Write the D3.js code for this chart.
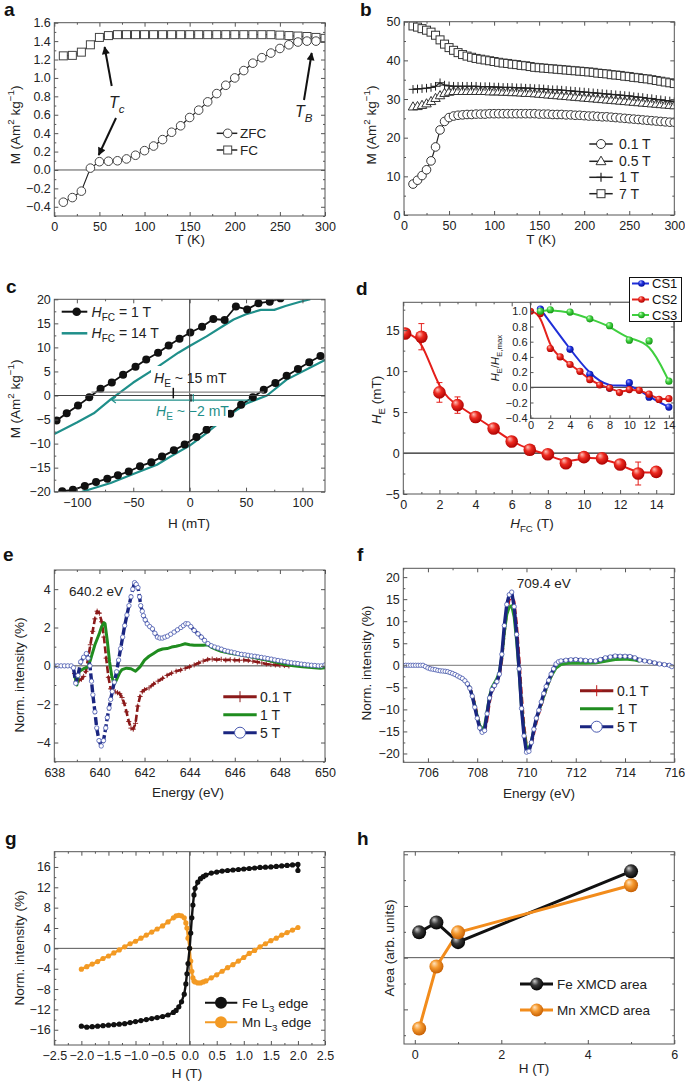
<!DOCTYPE html>
<html><head><meta charset="utf-8">
<script src="https://cdn.jsdelivr.net/npm/d3@7"></script>
<style>
body{margin:0;background:#fff}
svg{display:block}
text{font-family:"Liberation Sans",Arial,Helvetica,sans-serif}
</style>
</head><body>
<svg width="685" height="1081"></svg>
<script>
// ======================= DATA =======================
// (a) ZFC / FC
const aT_zfc=[10,20,30,40,50,60,70,80,90,100,110,120,130,140,150,160,170,180,190,200,210,220,230,240,250,260,270,280,290];
const aM_zfc=[-0.35,-0.30,-0.23,0.02,0.09,0.095,0.10,0.12,0.16,0.21,0.26,0.33,0.41,0.48,0.57,0.65,0.74,0.83,0.92,1.00,1.08,1.16,1.22,1.27,1.32,1.36,1.39,1.40,1.40];
const aT_fc=[10,20,30,40,50,60,70,80,90,100,110,120,130,140,150,160,170,180,190,200,210,220,230,240,250,260,270,280,290,300];
const aM_fc=[1.24,1.245,1.28,1.36,1.44,1.46,1.47,1.47,1.47,1.47,1.47,1.47,1.47,1.47,1.47,1.47,1.47,1.47,1.47,1.47,1.47,1.47,1.47,1.47,1.465,1.46,1.455,1.45,1.44,1.43];
const aLegend=["ZFC","FC"];
// (b) M(T) at several fields
const bT=[10,15,20,25,30,35,40,45,50,55,60,65,70,75,80,85,90,95,100,105,110,115,120,125,130,135,140,145,150,155,160,165,170,175,180,185,190,195,200,205,210,215,220,225,230,235,240,245,250,255,260,265,270,275,280,285,290,295,300];
const bM01=[8.0,9.0,10.2,11.7,14.0,17.6,22.0,24.2,25.2,25.6,25.8,25.9,26.0,26.0,26.1,26.1,26.1,26.2,26.2,26.2,26.2,26.2,26.2,26.2,26.2,26.2,26.2,26.2,26.1,26.1,26.1,26.0,26.0,26.0,25.9,25.9,25.8,25.8,25.7,25.6,25.6,25.5,25.4,25.4,25.3,25.2,25.1,25.0,24.9,24.8,24.7,24.6,24.5,24.4,24.3,24.2,24.1,24.0,24.0];
const bM05=[28.0,28.1,28.4,28.8,29.4,30.2,30.9,31.5,31.8,32.0,32.0,32.0,32.0,32.0,32.0,32.0,32.0,31.9,31.9,31.9,31.8,31.8,31.7,31.7,31.6,31.5,31.5,31.4,31.3,31.2,31.1,31.0,30.9,30.8,30.7,30.6,30.5,30.4,30.3,30.2,30.1,30.0,29.9,29.8,29.7,29.6,29.5,29.4,29.3,29.2,29.1,29.0,28.9,28.8,28.7,28.6,28.5,28.4,28.3];
const bM1=[32.5,32.6,32.7,32.8,33.0,33.3,34.2,33.6,33.4,33.3,33.3,33.3,33.3,33.3,33.3,33.2,33.2,33.2,33.1,33.1,33.0,33.0,33.0,32.9,32.9,32.8,32.8,32.7,32.7,32.6,32.5,32.4,32.4,32.3,32.2,32.1,32.0,31.9,31.8,31.7,31.6,31.5,31.4,31.3,31.2,31.1,31.0,30.9,30.8,30.6,30.5,30.4,30.2,30.1,29.9,29.8,29.6,29.5,29.3];
const bM7=[48.9,48.6,48.2,47.8,47.3,46.5,45.3,44.2,43.3,42.6,42.0,41.5,41.1,40.8,40.5,40.3,40.1,39.9,39.7,39.5,39.3,39.2,39.0,38.9,38.7,38.6,38.4,38.2,38.1,38.0,37.9,37.8,37.7,37.6,37.5,37.4,37.3,37.2,37.1,37.0,36.9,36.7,36.6,36.5,36.3,36.2,36.1,35.9,35.8,35.6,35.5,35.3,35.2,35.0,34.8,34.6,34.4,34.2,34.0];
const bLegend=["0.1 T","0.5 T","1 T","7 T"];
// (c) hysteresis loops
const cBlkUpH=[-118,-109,-99,-89,-79,-69,-59,-48,-38.5,-28,-18.6,-9,0.6,11,21,31,41,51,61,71,80.5];
const cBlkUpM=[-5.2,-3.7,-2.1,-0.35,1.4,2.7,4.3,6.0,7.5,8.9,10.4,11.8,13.1,14.3,15.9,15.7,18.5,17.9,19.2,19.5,20.2];
const cBlkLoH=[-113,-103.5,-93,-83,-73,-63.6,-54,-44,-34,-24.5,-14,-4.4,6,15,36,45.6,56,65.7,76,86,96,106,116];
const cBlkLoM=[-19.9,-19.6,-18.8,-18.0,-17.3,-16.6,-15.8,-14.7,-13.9,-12.7,-11.4,-10.2,-8.65,-7.1,-3.8,-1.9,-0.35,1.2,2.6,4.1,5.5,6.9,8.2];
const cTealUpH=[-120,-100,-85,-70,-50,-30,-10,0,15,30,39,50,63,75,85,98,107];
const cTealUpM=[-8.0,-5.6,-3.7,-0.8,2.7,5.7,8.9,10.3,12.3,14.5,15.8,16.9,17.8,17.8,18.6,19.5,20.0];
const cTealLoH=[-100,-94,-70,-50,-29,-17,0,15,33,51,68.6,86,120];
const cTealLoM=[-20.5,-19.9,-18.2,-16.3,-14.4,-12.7,-10.4,-7.8,-4.4,-1.6,0,3.3,7.4];
// (d) exchange bias vs cooling field
const dHfc=[0.1,1,2,3,4,5,6,7,8,9,10,11,12,13,14];
const dHe=[14.6,14.2,7.4,5.85,4.4,3.0,1.4,0.4,-0.15,-1.25,-0.5,-0.65,-1.4,-2.5,-2.3];
const dErr=[0.4,1.6,1.2,1.0,0.3,0.3,0.3,0.3,0.3,0.3,0.3,0.3,0.3,1.4,0.3];
const dCS1x=[1,4,6,8,10,12,14], dCS1y=[1.03,0.50,0.17,-0.01,0.06,-0.13,-0.26];
const dCS2x=[0,1,2,3,4,5,6,7,8,9,10,11,12,13,14], dCS2y=[1.0,0.97,0.51,0.40,0.30,0.21,0.10,0.03,-0.01,-0.07,-0.03,-0.04,-0.09,-0.16,-0.15];
const dCS3x=[1,2,4,6,8,10,12,14], dCS3y=[1.0,1.02,0.99,0.90,0.81,0.62,0.61,0.08];
const dLegend=["CS1","CS2","CS3"];
// (e) Mn XMCD
const eE01=[638.9,639.0,639.1,639.2,639.3,639.4,639.5,639.6,639.7,639.8,639.9,640.0,640.1,640.2,640.3,640.4,640.5,640.6,640.7,640.8,640.9,641.0,641.1,641.2,641.3,641.4,641.5,641.6,641.7,641.8,641.9,642.0,642.2,642.4,642.6,642.8,643.0,643.2,643.4,643.6,643.8,644.0,644.2,644.4,644.6,644.8,645.0,645.2,645.4,645.6,645.8,646.0,646.2,646.4,646.6,646.8,647.0,647.2,647.4,647.6,647.8,648.0,648.2,648.4];
const eI01=[-0.4,-0.8,-0.75,-0.7,-0.55,-0.3,0.4,1.1,1.8,2.45,2.85,2.75,2.3,1.5,0.4,-0.6,-1.2,-1.3,-1.35,-1.4,-1.45,-1.65,-1.95,-2.4,-2.9,-3.25,-3.3,-3.0,-2.1,-1.6,-1.35,-1.25,-1.15,-0.95,-0.8,-0.65,-0.5,-0.38,-0.28,-0.22,-0.13,-0.05,0.05,0.15,0.25,0.33,0.35,0.32,0.34,0.3,0.32,0.3,0.29,0.3,0.28,0.24,0.2,0.15,0.1,0.07,0.05,0.03,0.02,0.0];
const eE1=[638.9,639.0,639.1,639.3,639.5,639.6,639.7,639.8,639.9,640.0,640.1,640.2,640.25,640.35,640.45,640.55,640.65,640.75,640.9,641.0,641.2,641.4,641.6,641.8,642.0,642.2,642.4,642.6,642.8,643.0,643.2,643.4,643.6,643.8,644.0,644.2,644.4,644.6,644.8,645.0,645.2,645.4,645.8,646.2,646.6,647.0,647.4,647.8,648.2,648.6,649.0,649.4,649.8,650.0];
const eI1=[-0.5,-1.0,-0.3,-0.15,-0.05,0.3,0.7,1.1,1.4,1.7,2.05,2.25,2.2,1.3,0.2,-0.55,-0.95,-0.75,-0.35,-0.2,-0.12,-0.15,-0.28,-0.05,0.3,0.5,0.65,0.8,0.88,0.9,0.98,1.02,1.08,1.15,1.1,1.07,1.08,1.08,1.1,0.95,0.85,0.76,0.65,0.58,0.5,0.4,0.3,0.2,0.08,0.0,-0.05,-0.08,-0.12,-0.1];
const eE5=[638.0,638.15,638.3,638.45,638.6,638.75,638.85,638.95,639.05,639.17,639.3,639.42,639.5,639.58,639.65,639.71,639.8,639.88,639.98,640.08,640.18,640.28,640.35,640.43,640.5,640.57,640.66,640.76,640.85,640.94,641.03,641.12,641.22,641.31,641.4,641.48,641.56,641.63,641.71,641.78,641.83,641.9,641.95,642.03,642.12,642.23,642.35,642.46,642.57,642.68,642.79,642.9,643.02,643.16,643.31,643.46,643.61,643.72,643.83,643.93,644.05,644.2,644.37,644.52,644.66,644.81,644.96,645.11,645.26,645.41,645.56,645.7,645.85,646.0,646.14,646.3,646.45,646.59,646.74,646.89,647.03,647.18,647.33,647.47,647.62,647.77,647.92,648.07,648.22,648.36,648.51,648.66,648.8,648.95,649.1,649.25,649.4,649.55,649.7,649.84,650.0];
const eI5=[0,0,0,0,0,0,-0.1,-0.91,-0.5,0.21,0.45,0.64,0.4,0.0,-0.8,-1.51,-2.4,-3.24,-3.9,-4.18,-3.9,-3.24,-2.7,-2.2,-1.75,-1.34,-0.85,-0.31,0.3,0.9,1.5,2.1,2.65,3.14,3.6,4.0,4.34,4.25,4.08,3.6,3.14,2.85,2.62,2.4,2.19,2.05,1.93,1.7,1.5,1.45,1.45,1.5,1.55,1.65,1.76,1.88,2.0,2.1,2.2,2.19,2.05,1.85,1.67,1.5,1.33,1.16,1.05,0.98,0.93,0.87,0.8,0.76,0.72,0.68,0.64,0.6,0.58,0.55,0.52,0.5,0.47,0.44,0.41,0.38,0.35,0.31,0.28,0.25,0.22,0.19,0.16,0.14,0.12,0.09,0.07,0.05,0.03,0.02,0.0,0.0,0.05];
const fieldLegend=["0.1 T","1 T","5 T"];
// (f) Fe XMCD
const fE01=[705.9,706.5,707.0,707.5,707.7,707.9,708.0,708.1,708.2,708.3,708.4,708.5,708.6,708.7,708.8,708.9,709.0,709.1,709.2,709.3,709.4,709.5,709.6,709.7,709.8,709.9,710.0,710.1,710.2,710.3,710.4,710.5,710.6,710.7,710.8,710.9,711.0,711.1,711.2,711.3];
const fI01=[-0.3,-1.25,-1.85,-3.4,-4.8,-8.5,-11.0,-13.5,-15.0,-15.3,-12.5,-8.5,-6.0,-4.8,-3.9,-2.5,1.0,7.0,12.0,14.8,15.5,14.5,9.5,2.0,-6.5,-13.5,-18.0,-19.2,-18.0,-15.5,-13.0,-11.0,-9.2,-7.3,-5.5,-4.0,-2.6,-1.2,0.0,0.6];
const fE1=[706.0,706.5,707.0,707.5,707.7,707.9,708.0,708.1,708.2,708.3,708.4,708.5,708.6,708.7,708.8,708.9,709.0,709.1,709.2,709.3,709.4,709.5,709.6,709.7,709.8,709.9,710.0,710.1,710.2,710.3,710.4,710.6,710.8,711.0,711.2,711.4,711.6,712.0,712.4,712.8,713.2,713.6,714.0,714.4,714.6];
const fI1=[-0.6,-1.25,-1.85,-3.5,-5.0,-9.0,-11.5,-13.6,-14.5,-13.8,-10.5,-7.0,-5.0,-4.0,-3.0,-1.5,2.0,7.5,11.5,13.2,13.5,11.0,5.5,-1.5,-9.5,-15.0,-18.5,-19.0,-17.2,-14.5,-12.2,-8.7,-5.3,-2.5,-0.6,0.2,0.4,0.5,0.45,0.5,0.9,1.3,1.4,1.2,0.9];
const fE5=[705.0,705.1,705.2,705.3,705.4,705.5,705.6,705.7,705.8,705.9,706.0,706.1,706.2,706.3,706.4,706.5,706.6,706.7,706.8,706.9,707.0,707.1,707.2,707.3,707.4,707.5,707.6,707.7,707.8,707.9,708.0,708.1,708.2,708.3,708.4,708.5,708.6,708.7,708.8,708.9,709.0,709.1,709.2,709.3,709.4,709.5,709.6,709.7,709.8,709.9,710.0,710.1,710.2,710.3,710.4,710.5,710.6,710.7,710.8,710.9,711.0,711.1,711.2,711.3,711.4,711.6,711.8,712.0,712.2,712.4,712.6,712.8,713.0,713.2,713.4,713.6,713.8,714.0,714.2,714.4,714.6,714.8,715.0,715.2,715.4,715.6,715.8,715.9];
const fI5=[0,0,0,0,0,0,0,0,0,-0.3,-0.6,-0.8,-0.9,-1.0,-1.15,-1.25,-1.3,-1.35,-1.45,-1.65,-1.85,-2.1,-2.4,-2.7,-3.0,-3.5,-4.2,-5.2,-7.0,-9.5,-12.0,-14.2,-15.2,-14.8,-11.0,-7.4,-5.5,-4.6,-3.7,-2.0,2.5,9.0,13.8,16.0,16.6,13.3,7.0,-0.8,-9.8,-16.0,-19.7,-19.5,-17.5,-14.5,-12.0,-10.2,-8.3,-6.4,-4.8,-3.4,-2.0,-0.8,0.3,0.8,1.0,1.15,1.25,1.3,1.2,1.1,1.05,1.0,1.3,1.7,1.9,2.1,2.05,2.05,2.0,1.7,1.2,1.0,0.8,0.55,0.3,0.15,0.0,-0.3];
// (g) element-specific hysteresis
const gFeH=[-2.0,-1.9,-1.8,-1.7,-1.6,-1.5,-1.4,-1.3,-1.2,-1.1,-1.0,-0.9,-0.8,-0.7,-0.6,-0.5,-0.4,-0.3,-0.25,-0.2,-0.15,-0.1,-0.07,-0.05,-0.03,0.0,0.02,0.04,0.06,0.08,0.1,0.15,0.2,0.25,0.3,0.4,0.5,0.6,0.7,0.8,0.9,1.0,1.1,1.2,1.3,1.4,1.5,1.6,1.7,1.8,1.9,2.0,2.0];
const gFeI=[-15.3,-15.5,-15.4,-15.3,-15.2,-15.1,-15.0,-14.9,-14.8,-14.6,-14.4,-14.2,-14.0,-13.8,-13.6,-13.4,-13.1,-12.6,-12.2,-11.5,-10.5,-9.0,-7.0,-5.0,-3.0,0.0,3.0,6.0,8.5,10.5,11.8,13.0,13.7,14.1,14.4,14.8,15.0,15.2,15.3,15.4,15.5,15.6,15.7,15.8,15.9,15.95,16.0,16.1,16.2,16.3,16.4,16.5,15.3];
const gMnH=[-2.0,-1.9,-1.8,-1.7,-1.6,-1.5,-1.4,-1.3,-1.2,-1.1,-1.0,-0.9,-0.8,-0.7,-0.6,-0.5,-0.4,-0.3,-0.25,-0.2,-0.15,-0.1,-0.07,-0.05,-0.03,0.0,0.02,0.04,0.06,0.08,0.1,0.15,0.2,0.25,0.3,0.4,0.5,0.6,0.7,0.8,0.9,1.0,1.1,1.2,1.3,1.4,1.5,1.6,1.7,1.8,1.9,2.0];
const gMnI=[-4.1,-3.6,-3.1,-2.6,-2.0,-1.5,-0.9,-0.3,0.3,0.9,1.4,2.0,2.6,3.2,3.8,4.4,5.2,6.0,6.4,6.5,6.4,6.0,5.0,4.0,2.0,0.0,-2.5,-4.5,-5.8,-6.4,-6.6,-6.8,-6.8,-6.6,-6.4,-5.8,-5.2,-4.5,-3.8,-3.2,-2.5,-1.8,-1.0,-0.4,0.3,0.9,1.5,2.0,2.6,3.1,3.6,4.1];
const gLegend=["Fe","Mn"];
// (h) XMCD areas
const hH=[0.1,0.5,1.0,5.0];
const hFe=[0.49,0.68,0.30,1.67];
const hMn=[-1.37,-0.17,0.49,1.40];
const hLegend=["Fe XMCD area","Mn XMCD area"];
// tick labels
const ticksA_x=[0,50,100,150,200,250,300], ticksA_y=[-0.4,-0.2,0,0.2,0.4,0.6,0.8,1.0,1.2,1.4,1.6];
const ticksB_x=[0,50,100,150,200,250,300], ticksB_y=[0,10,20,30,40,50];
const ticksC_x=[-100,-50,0,50,100], ticksC_y=[-20,-15,-10,-5,0,5,10,15,20];
const ticksD_x=[0,2,4,6,8,10,12,14], ticksD_y=[-5,0,5,10,15];
const ticksDi_x=[0,2,4,6,8,10,12,14], ticksDi_y=[-0.4,-0.2,0,0.2,0.4,0.6,0.8,1.0];
const ticksE_x=[638,640,642,644,646,648,650], ticksE_y=[-4,-2,0,2,4];
const ticksF_x=[706,708,710,712,714,716], ticksF_y=[-20,-15,-10,-5,0,5,10,15,20];
const ticksG_x=[-2.5,-2,-1.5,-1,-0.5,0,0.5,1,1.5,2,2.5], ticksG_y=[-16,-12,-8,-4,0,4,8,12,16];
const ticksH_x=[0,2,4,6], ticksH_y=[-1,0,1,2];

// ======================= HELPERS =======================
const svg=d3.select("svg");
const defs=svg.append("defs");
function grad(id,c0,c1,c2){
  const g=defs.append("radialGradient").attr("id",id).attr("cx","45%").attr("cy","42%").attr("r","60%").attr("fx","33%").attr("fy","28%");
  g.append("stop").attr("offset","0%").attr("stop-color",c0);
  g.append("stop").attr("offset","45%").attr("stop-color",c1);
  g.append("stop").attr("offset","100%").attr("stop-color",c2);
}
grad("gRed","#ffc0b8","#ee2a20","#a80000");
grad("gBlue","#b0b8ff","#2233e0","#000a90");
grad("gGreen","#d0ffc8","#44d444","#109010");
grad("gBlack","#d0d0d0","#3a3a3a","#000000");
grad("gOrange","#ffe4c0","#f59a30","#c45c00");
defs.append("marker").attr("id","arr").attr("viewBox","0 0 10 10").attr("refX",9).attr("refY",5)
  .attr("markerWidth",4.5).attr("markerHeight",4).attr("orient","auto")
  .append("path").attr("d","M0,0L10,5L0,10z").attr("fill","#111");

let clipN=0;
function panel(o){
  const x=d3.scaleLinear().domain(o.xd).range([o.l,o.r]);
  const y=d3.scaleLinear().domain(o.yd).range([o.b,o.t]);
  const g=svg.append("g");
  if(o.bg) g.append("rect").attr("x",o.l).attr("y",o.t).attr("width",o.r-o.l).attr("height",o.b-o.t).attr("fill","#fff");
  const id="clip"+(clipN++);
  defs.append("clipPath").attr("id",id).append("rect").attr("x",o.l).attr("y",o.t).attr("width",o.r-o.l).attr("height",o.b-o.t);
  const under=g.append("g").attr("clip-path",`url(#${id})`);
  const plot=g.append("g").attr("clip-path",`url(#${id})`);
  const ax=g.append("g");
  return {x,y,g,plot,under,ax,o};
}
function axes(p,s){
  const {x,y,ax,o}=p; const fs=s.fs||12.5;
  const none=()=>"";
  function mk(axis,tr,vals,size,fmt,pad){
    const a=ax.append("g").attr("transform",tr)
      .call(axis.tickValues(vals).tickSizeInner(size).tickSizeOuter(0).tickPadding(pad).tickFormat(fmt));
    a.select(".domain").remove();
    a.selectAll("line").attr("stroke","#555").attr("stroke-width",1);
    a.selectAll("text").attr("font-size",fs).attr("fill","#222");
    return a;
  }
  const maj=s.majLen||4, mn=s.minLen||2;
  mk(d3.axisBottom(x),`translate(0,${o.b})`,s.xMaj,-maj,s.xFmt||none,s.xPad||5);
  mk(d3.axisTop(x),`translate(0,${o.t})`,s.xMaj,-maj,none,0);
  mk(d3.axisLeft(y),`translate(${o.l},0)`,s.yMaj,-maj,s.yFmt||none,s.yPad||3.5);
  mk(d3.axisRight(y),`translate(${o.r},0)`,s.yMaj,-maj,none,0);
  if(s.xMin){mk(d3.axisBottom(x),`translate(0,${o.b})`,s.xMin,-mn,none,0);mk(d3.axisTop(x),`translate(0,${o.t})`,s.xMin,-mn,none,0);}
  if(s.yMin){mk(d3.axisLeft(y),`translate(${o.l},0)`,s.yMin,-mn,none,0);mk(d3.axisRight(y),`translate(${o.r},0)`,s.yMin,-mn,none,0);}
  ax.append("rect").attr("x",o.l).attr("y",o.t).attr("width",o.r-o.l).attr("height",o.b-o.t)
    .attr("fill","none").attr("stroke","#555").attr("stroke-width",1);
}
function rich(parent,x,y,parts,o={}){
  const fs=o.fs||13;
  const t=parent.append("text").attr("x",x).attr("y",y).attr("font-size",fs)
    .attr("fill",o.fill||"#222").attr("text-anchor",o.anchor||"start");
  if(o.rot) t.attr("transform",`rotate(-90 ${x} ${y})`);
  if(o.bold) t.attr("font-weight","bold");
  let cur=0;
  parts.forEach(pp=>{
    const p=(typeof pp==="string")?{t:pp}:pp;
    const off=p.sub?fs*0.3:p.sup?-fs*0.4:0;
    const s=t.append("tspan").text(p.t);
    if(off!==cur){s.attr("dy",off-cur);cur=off;}
    if(p.sub||p.sup) s.attr("font-size",fs*0.72);
    if(p.i) s.attr("font-style","italic");
  });
  return t;
}
function hline(p,v,col,w){p.under.append("line").attr("x1",p.o.l).attr("x2",p.o.r).attr("y1",p.y(v)).attr("y2",p.y(v)).attr("stroke",col||"#555").attr("stroke-width",w||1);}
function vline(p,v,col,w){p.under.append("line").attr("y1",p.o.t).attr("y2",p.o.b).attr("x1",p.x(v)).attr("x2",p.x(v)).attr("stroke",col||"#555").attr("stroke-width",w||1);}
function path(p,xs,ys,st,curve){
  const pts=d3.zip(xs,ys);
  return p.plot.append("path").datum(pts)
    .attr("d",d3.line().x(d=>p.x(d[0])).y(d=>p.y(d[1])).curve(curve||d3.curveLinear))
    .attr("fill","none").attr("stroke",st.c).attr("stroke-width",st.w||1.2)
    .attr("stroke-dasharray",st.dash||null).attr("stroke-linejoin","round");
}
const SYM={
  circle:(g,r)=>g.append("circle").attr("r",r),
  square:(g,r)=>g.append("rect").attr("x",-r).attr("y",-r).attr("width",2*r).attr("height",2*r),
  tri:(g,r)=>g.append("path").attr("d",`M0,${-r*1.15}L${r*1.1},${r*0.75}L${-r*1.1},${r*0.75}Z`),
  plus:(g,r)=>g.append("path").attr("d",`M${-r},0H${r}M0,${-r}V${r}`)
};
function marks(p,xs,ys,kind,r,st){
  const pts=d3.zip(xs,ys);
  const grp=p.plot.append("g");
  pts.forEach(d=>{
    const gg=grp.append("g").attr("transform",`translate(${p.x(d[0])},${p.y(d[1])})`);
    SYM[kind](gg,r).attr("fill",st.fill||"none").attr("stroke",st.stroke||"none").attr("stroke-width",st.sw||1);
  });
}
function legendSym(parent,x,y,kind,r,st){
  const gg=parent.append("g").attr("transform",`translate(${x},${y})`);
  SYM[kind](gg,r).attr("fill",st.fill||"none").attr("stroke",st.stroke||"none").attr("stroke-width",st.sw||1);
}
function lline(parent,x1,x2,y,col,w){parent.append("line").attr("x1",x1).attr("x2",x2).attr("y1",y).attr("y2",y).attr("stroke",col).attr("stroke-width",w);}
const fmt=d3.format(""), fmt1=d3.format(".1f");
const panelLabel=(t,x,y)=>svg.append("text").attr("x",x).attr("y",y).attr("font-size",19).attr("font-weight","bold").attr("fill","#111").text(t);

// ======================= (a) =======================
{
  const p=panel({l:54.3,r:325,t:22.7,b:216,xd:[0,300],yd:[-0.5,1.6]});
  axes(p,{xMaj:ticksA_x,xMin:[25,75,125,175,225,275],yMaj:ticksA_y,yMin:[-0.5,-0.3,-0.1,0.1,0.3,0.5,0.7,0.9,1.1,1.3,1.5],xFmt:fmt,yFmt:fmt1,xPad:6});
  hline(p,0,"#555",1);
  path(p,aT_fc,aM_fc,{c:"#222",w:1.2});
  path(p,aT_zfc,aM_zfc,{c:"#222",w:1.2});
  marks(p,aT_fc,aM_fc,"square",4,{fill:"#fff",stroke:"#444",sw:1});
  marks(p,aT_zfc,aM_zfc,"circle",4.3,{fill:"#fff",stroke:"#444",sw:1});
  const g=p.g;
  // legend
  lline(g,216.7,237.3,133.3,"#222",1.5); legendSym(g,227.7,133.3,"circle",4.3,{fill:"#fff",stroke:"#444"});
  lline(g,216.7,237.3,150,"#222",1.5); legendSym(g,227.7,150,"square",4,{fill:"#fff",stroke:"#444"});
  g.append("text").attr("x",240).attr("y",138).attr("font-size",13.5).attr("fill","#222").text(aLegend[0]);
  g.append("text").attr("x",240).attr("y",155).attr("font-size",13.5).attr("fill","#222").text(aLegend[1]);
  // annotations
  const arrow=(x1,y1,x2,y2)=>g.append("line").attr("x1",x1).attr("y1",y1).attr("x2",x2).attr("y2",y2).attr("stroke","#111").attr("stroke-width",2).attr("marker-end","url(#arr)");
  arrow(111.7,86,104.6,47);
  arrow(116,118,98.7,155);
  arrow(304,100,311.7,53);
  rich(g,109,108,[{t:"T",i:1},{t:"c",sub:1,i:1}],{fs:16});
  rich(g,295,117,[{t:"T",i:1},{t:"B",sub:1,i:1}],{fs:16});
  rich(g,190,244,["T (K)"],{fs:13.5,anchor:"middle"});
  rich(g,15+4.7,125,["M (Am",{t:"2",sup:1}," kg",{t:"−1",sup:1},")"],{fs:13.5,anchor:"middle",rot:1});
  panelLabel("a",4,16);
}
// ======================= (b) =======================
{
  const p=panel({l:404,r:674.3,t:21.7,b:215,xd:[0,300],yd:[0,50]});
  axes(p,{xMaj:ticksB_x,xMin:[25,75,125,175,225,275],yMaj:ticksB_y,yMin:[5,15,25,35,45],xFmt:fmt,yFmt:fmt,xPad:6});
  const st={fill:"#fff",stroke:"#333",sw:1};
  path(p,bT,bM01,{c:"#222",w:1.2}); marks(p,bT,bM01,"circle",4.3,st);
  path(p,bT,bM05,{c:"#222",w:1.2}); marks(p,bT,bM05,"tri",4.3,st);
  path(p,bT,bM1,{c:"#222",w:1.2}); marks(p,bT,bM1,"plus",4.3,{stroke:"#222",sw:1});
  path(p,bT,bM7,{c:"#222",w:1.2}); marks(p,bT,bM7,"square",4,st);
  const g=p.g; const ys=[144,161.3,177.3,193.7]; const kinds=["circle","tri","plus","square"];
  ys.forEach((yy,i)=>{
    lline(g,589.3,612.7,yy,"#222",1.5);
    legendSym(g,601,yy,kinds[i],kinds[i]==="square"?4:4.5,kinds[i]==="plus"?{stroke:"#222",sw:1.2}:{fill:"#fff",stroke:"#333"});
    g.append("text").attr("x",619).attr("y",yy+5).attr("font-size",14).attr("fill","#222").text(bLegend[i]);
  });
  rich(g,541,244,["T (K)"],{fs:13.5,anchor:"middle"});
  rich(g,371+4.7,125,["M (Am",{t:"2",sup:1}," kg",{t:"−1",sup:1},")"],{fs:13.5,anchor:"middle",rot:1});
  panelLabel("b",360,16);
}
// ======================= (c) =======================
{
  const teal="#1f8f8a";
  const p=panel({l:54.3,r:325,t:299.3,b:491.7,xd:[-120,120],yd:[-20,20]});
  axes(p,{xMaj:ticksC_x,xMin:[-75,-25,25,75],yMaj:ticksC_y,yMin:[-17.5,-12.5,-7.5,-2.5,2.5,7.5,12.5,17.5],xFmt:fmt,yFmt:fmt,xPad:6});
  path(p,cTealUpH,cTealUpM,{c:teal,w:2.2});
  path(p,cTealLoH,cTealLoM,{c:teal,w:2.2});
  path(p,cBlkUpH,cBlkUpM,{c:"#111",w:1.8});
  path(p,cBlkLoH,cBlkLoM,{c:"#111",w:1.8});
  marks(p,cBlkUpH,cBlkUpM,"circle",4,{fill:"#111"});
  marks(p,cBlkLoH,cBlkLoM,"circle",4,{fill:"#111"});
  const g=p.g;
  // label backgrounds (white), then zero lines on top
  g.append("rect").attr("x",151).attr("y",366).attr("width",71).attr("height",20).attr("fill","#fff");
  g.append("rect").attr("x",152).attr("y",404).attr("width",76).attr("height",22).attr("fill","#fff");
  const zl=g.append("g");
  zl.append("line").attr("x1",p.o.l).attr("x2",p.o.r).attr("y1",p.y(0)).attr("y2",p.y(0)).attr("stroke","#444");
  zl.append("line").attr("x1",p.x(0)).attr("x2",p.x(0)).attr("y1",p.o.t).attr("y2",p.o.b).attr("stroke","#444");
  // exchange-bias markers
  zl.append("line").attr("x1",p.x(-87)).attr("x2",p.x(66)).attr("y1",p.y(0.7)).attr("y2",p.y(0.7)).attr("stroke","#888").attr("stroke-width",1.2);
  zl.append("line").attr("x1",p.x(-69)).attr("x2",p.x(54)).attr("y1",p.y(-0.95)).attr("y2",p.y(-0.95)).attr("stroke",teal).attr("stroke-width",1.2);
  zl.append("path").attr("d",`M${p.x(-69)+4},${p.y(-0.95)-3}L${p.x(-69)},${p.y(-0.95)}L${p.x(-69)+4},${p.y(-0.95)+3}`).attr("fill","none").attr("stroke",teal).attr("stroke-width",1.2);
  zl.append("line").attr("x1",p.x(-14.5)).attr("x2",p.x(-14.5)).attr("y1",p.y(1.6)).attr("y2",p.y(-0.6)).attr("stroke","#111").attr("stroke-width",1.5);
  zl.append("line").attr("x1",p.x(1.2)).attr("x2",p.x(1.2)).attr("y1",p.y(0.3)).attr("y2",p.y(-1.3)).attr("stroke","#111").attr("stroke-width",1.2);
  zl.append("line").attr("x1",p.x(3.2)).attr("x2",p.x(3.2)).attr("y1",p.y(0.3)).attr("y2",p.y(-1.3)).attr("stroke",teal).attr("stroke-width",1.2);
  rich(g,154,382.5,[{t:"H",i:1},{t:"E",sub:1}," ~ 15 mT"],{fs:14});
  rich(g,156,416,[{t:"H",i:1},{t:"E",sub:1}," ~ −2 mT"],{fs:14,fill:teal});
  // legend
  lline(g,61.7,87.3,311.7,"#111",2); legendSym(g,76.7,311.7,"circle",4.3,{fill:"#111"});
  lline(g,61.7,87.3,333.3,teal,2.5);
  rich(g,91.5,316.5,[{t:"H",i:1},{t:"FC",sub:1}," = 1 T"],{fs:14});
  rich(g,91.5,338,[{t:"H",i:1},{t:"FC",sub:1}," = 14 T"],{fs:14});
  rich(g,189,528,["H (mT)"],{fs:13.5,anchor:"middle"});
  rich(g,15+4.7,399,["M (Am",{t:"2",sup:1}," kg",{t:"−1",sup:1},")"],{fs:13.5,anchor:"middle",rot:1});
  panelLabel("c",6,293);
}
// ======================= (d) =======================
{
  const red="#e41e1a";
  const p=panel({l:403.3,r:674.3,t:302.3,b:494,xd:[0,15],yd:[-5,18.4]});
  axes(p,{xMaj:ticksD_x,xMin:[1,3,5,7,9,11,13],yMaj:ticksD_y,yMin:[-2.5,2.5,7.5,12.5,17.5],xFmt:fmt,yFmt:fmt,xPad:6});
  hline(p,0,"#222",1.2);
  path(p,dHfc,dHe,{c:red,w:2},d3.curveBasis);
  // error bars
  d3.zip(dHfc,dHe,dErr).forEach(d=>{
    const xx=p.x(d[0]);
    p.plot.append("line").attr("x1",xx).attr("x2",xx).attr("y1",p.y(d[1]-d[2])).attr("y2",p.y(d[1]+d[2])).attr("stroke",red).attr("stroke-width",1);
    [d[1]-d[2],d[1]+d[2]].forEach(v=>p.plot.append("line").attr("x1",xx-3).attr("x2",xx+3).attr("y1",p.y(v)).attr("y2",p.y(v)).attr("stroke",red).attr("stroke-width",1));
  });
  marks(p,dHfc,dHe,"circle",6.3,{fill:"url(#gRed)"});
  const g=p.g;
  rich(g,532,528,[{t:"H",i:1},{t:"FC",sub:1}," (T)"],{fs:13.5,anchor:"middle"});
  rich(g,376+4.7,400,[{t:"H",i:1},{t:"E",sub:1}," (mT)"],{fs:13.5,anchor:"middle",rot:1});
  panelLabel("d",356,295);
  // inset
  const q=panel({l:530.5,r:673.8,t:302.3,b:418.3,xd:[0,14.5],yd:[-0.408,1.118],bg:1});
  axes(q,{xMaj:ticksDi_x,yMaj:ticksDi_y,xFmt:fmt,yFmt:fmt1,fs:11,xPad:3,yPad:3,majLen:3});
  hline(q,0,"#222",1);
  const ser=[[dCS1x,dCS1y,"#1f2fd8","gBlue"],[dCS2x,dCS2y,"#e4231d","gRed"],[dCS3x,dCS3y,"#3fcf3f","gGreen"]];
  ser.forEach(s=>{path(q,s[0],s[1],{c:s[2],w:2},d3.curveBasis);});
  ser.forEach(s=>{marks(q,s[0],s[1],"circle",3.6,{fill:`url(#${s[3]})`});});
  rich(q.g,495+4,358,[{t:"H",i:1},{t:"E",sub:1},"/",{t:"H",i:1},{t:"E,max",sub:1}],{fs:11,anchor:"middle",rot:1});
  // legend box
  const lg=svg.append("g");
  lg.append("rect").attr("x",629.5).attr("y",277.5).attr("width",52).attr("height",44).attr("fill","#fff").attr("stroke","#111").attr("stroke-width",1);
  [283.5,299.5,315].forEach((yy,i)=>{
    lline(lg,632,649,yy,ser[i][2],2);
    legendSym(lg,641.5,yy,"circle",3.3,{fill:`url(#${ser[i][3]})`});
    lg.append("text").attr("x",652).attr("y",yy+4.5).attr("font-size",13).attr("fill","#111").text(dLegend[i]);
  });
}
// ======================= (e) =======================
const cRed="#8b1a1a", cGreen="#1f8c1f", cNavy="#1a2580", cCirc="#4a5ab0";
{
  const p=panel({l:54.3,r:325,t:570,b:761.7,xd:[638,650],yd:[-5,5]});
  axes(p,{xMaj:ticksE_x,xMin:[639,641,643,645,647,649],yMaj:ticksE_y,yMin:[-5,-3,-1,1,3,5],xFmt:fmt,yFmt:fmt,xPad:6});
  hline(p,0,"#444",1);
  path(p,eE01,eI01,{c:cRed,w:2.6,dash:"7,3"});
  marks(p,eE01,eI01,"plus",2.6,{stroke:cRed,sw:0.9});
  path(p,eE1,eI1,{c:cGreen,w:3});
  path(p,eE5,eI5,{c:cNavy,w:3.4,dash:"8,3"});
  marks(p,eE5,eI5,"circle",2.2,{fill:"#fff",stroke:cCirc,sw:0.8});
  const g=p.g;
  g.append("text").attr("x",69).attr("y",596).attr("font-size",13.5).attr("fill","#222").text("640.2 eV");
  const ys=[696.7,714.7,732.7];
  lline(g,223.3,256.7,ys[0],cRed,3); legendSym(g,240,ys[0],"plus",5.5,{stroke:cRed,sw:1});
  lline(g,223.3,256.7,ys[1],cGreen,3);
  lline(g,223.3,256.7,ys[2],cNavy,3); legendSym(g,240,ys[2],"circle",5.5,{fill:"#fff",stroke:cCirc,sw:1});
  ys.forEach((yy,i)=>g.append("text").attr("x",260).attr("y",yy+5).attr("font-size",14).attr("fill","#222").text(fieldLegend[i]));
  rich(g,188,797,["Energy (eV)"],{fs:13.5,anchor:"middle"});
  rich(g,19+4.7,675,["Norm. intensity (%)"],{fs:13.5,anchor:"middle",rot:1});
  panelLabel("e",3,561);
}
// ======================= (f) =======================
{
  const p=panel({l:403.3,r:674.3,t:568.3,b:762.3,xd:[705,716],yd:[-22,22]});
  axes(p,{xMaj:ticksF_x,xMin:[705,707,709,711,713,715],yMaj:ticksF_y,yMin:[-17.5,-12.5,-7.5,-2.5,2.5,7.5,12.5,17.5],xFmt:fmt,yFmt:fmt,xPad:6});
  hline(p,0,"#777",1);
  path(p,fE01,fI01,{c:"#c01818",w:2.6,dash:"7,3"});
  path(p,fE1,fI1,{c:"#2a9a2a",w:3});
  path(p,fE5,fI5,{c:cNavy,w:3.4});
  marks(p,fE5,fI5,"circle",2.2,{fill:"#fff",stroke:cCirc,sw:0.8});
  const g=p.g;
  g.append("text").attr("x",516.7).attr("y",588).attr("font-size",13.5).attr("fill","#222").text("709.4 eV");
  const ys=[690.7,708.7,726.7];
  lline(g,580,613.3,ys[0],cRed,3); legendSym(g,596.7,ys[0],"plus",5.5,{stroke:"#c01818",sw:1});
  lline(g,580,613.3,ys[1],cGreen,3);
  lline(g,580,613.3,ys[2],cNavy,3); legendSym(g,596.7,ys[2],"circle",5.5,{fill:"#fff",stroke:cCirc,sw:1});
  ys.forEach((yy,i)=>g.append("text").attr("x",617).attr("y",yy+5).attr("font-size",14).attr("fill","#222").text(fieldLegend[i]));
  rich(g,539,798,["Energy (eV)"],{fs:13.5,anchor:"middle"});
  rich(g,366+4.7,663,["Norm. intensity (%)"],{fs:13.5,anchor:"middle",rot:1});
  panelLabel("f",357,561);
}
// ======================= (g) =======================
{
  const orange="#f39a24";
  const p=panel({l:54.3,r:325,t:851.7,b:1045,xd:[-2.5,2.5],yd:[-19,19]});
  axes(p,{xMaj:ticksG_x,xMin:[-2.25,-1.75,-1.25,-0.75,-0.25,0.25,0.75,1.25,1.75,2.25],yMaj:ticksG_y,yMin:[-18,-14,-10,-6,-2,2,6,10,14,18],xFmt:fmt1,yFmt:fmt,xPad:6});
  hline(p,0,"#555",1); vline(p,0,"#555",1);
  path(p,gMnH,gMnI,{c:orange,w:2.4});
  marks(p,gMnH,gMnI,"circle",2.6,{fill:orange});
  path(p,gFeH,gFeI,{c:"#111",w:2.4});
  marks(p,gFeH,gFeI,"circle",2.6,{fill:"#111"});
  const g=p.g;
  lline(g,205,237.3,1002.7,"#111",2); legendSym(g,221,1002.7,"circle",6,{fill:"#111"});
  lline(g,205,237.3,1022.3,orange,2); legendSym(g,221,1022.3,"circle",6,{fill:orange});
  rich(g,242,1007.5,[gLegend[0]+" L",{t:"3",sub:1}," edge"],{fs:13.5});
  rich(g,242,1027,[gLegend[1]+" L",{t:"3",sub:1}," edge"],{fs:13.5});
  rich(g,187,1078,["H (T)"],{fs:13.5,anchor:"middle"});
  rich(g,19+4.7,948,["Norm. intensity (%)"],{fs:13.5,anchor:"middle",rot:1});
  panelLabel("g",5,845);
}
// ======================= (h) =======================
{
  const orange="#f28c1c";
  const p=panel({l:404,r:674.3,t:851.7,b:1044,xd:[-0.25,6],yd:[-1.67,2.05]});
  axes(p,{xMaj:ticksH_x,xMin:[1,3,5],yMaj:ticksH_y,yMin:[-1.5,-0.5,0.5,1.5],xFmt:fmt,yFmt:()=>"",xPad:6});
  hline(p,0,"#555",1);
  path(p,hH,hFe,{c:"#111",w:3});
  path(p,hH,hMn,{c:orange,w:3});
  marks(p,hH,hFe,"circle",7,{fill:"url(#gBlack)"});
  marks(p,hH,hMn,"circle",7,{fill:"url(#gOrange)"});
  const g=p.g;
  lline(g,520,553,984,"#111",3); legendSym(g,536.7,984,"circle",6.5,{fill:"url(#gBlack)"});
  lline(g,520,553,1010,orange,3); legendSym(g,536.7,1010,"circle",6.5,{fill:"url(#gOrange)"});
  g.append("text").attr("x",557).attr("y",989).attr("font-size",13.5).attr("fill","#222").text(hLegend[0]);
  g.append("text").attr("x",557).attr("y",1015).attr("font-size",13.5).attr("fill","#222").text(hLegend[1]);
  rich(g,534,1073,["H (T)"],{fs:13.5,anchor:"middle"});
  rich(g,389+4.7,948,["Area (arb. units)"],{fs:13.5,anchor:"middle",rot:1});
  panelLabel("h",357,845);
}
</script>
</body></html>
